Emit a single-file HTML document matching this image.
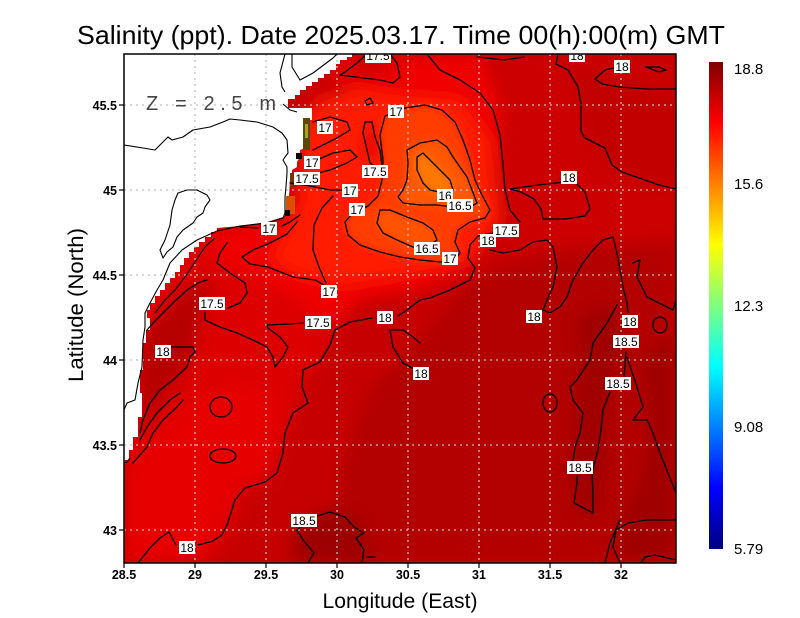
<!DOCTYPE html>
<html><head><meta charset="utf-8"><style>
html,body{margin:0;padding:0;background:#fff;}
svg{display:block;}
text{font-family:"Liberation Sans",sans-serif;}
</style></head><body>
<svg width="800" height="618" viewBox="0 0 800 618" xmlns="http://www.w3.org/2000/svg">
<defs>
<clipPath id="pc"><rect x="124" y="54" width="552" height="509"/></clipPath>
<filter id="bl" x="-30%" y="-30%" width="160%" height="160%"><feGaussianBlur stdDeviation="8"/></filter>
<filter id="bs" x="-30%" y="-30%" width="160%" height="160%"><feGaussianBlur stdDeviation="4"/></filter>
<linearGradient id="jet" x1="0" y1="1" x2="0" y2="0">
<stop offset="0" stop-color="#00007f"/>
<stop offset="0.125" stop-color="#0000ff"/>
<stop offset="0.375" stop-color="#00ffff"/>
<stop offset="0.625" stop-color="#ffff00"/>
<stop offset="0.875" stop-color="#ff0000"/>
<stop offset="1" stop-color="#800000"/>
</linearGradient>
</defs>

<!-- Title -->
<text x="77" y="44" font-size="26" textLength="648" lengthAdjust="spacingAndGlyphs" fill="#000">Salinity (ppt). Date 2025.03.17. Time 00(h):00(m) GMT</text>

<g clip-path="url(#pc)">
<rect x="124" y="54" width="552" height="509" fill="#c60000"/>
<g filter="url(#bl)">
<polygon points="470,280 560,250 676,240 676,563 330,563 340,470 370,390 420,340" fill="#b30000"/>
<polygon points="575,320 610,300 625,340 610,400 605,460 600,515 575,515 570,470 575,400 580,360" fill="#a00000"/>
<polygon points="640,360 676,330 676,563 620,563 620,520 640,480 650,430" fill="#a00000"/>
<polygon points="295,530 330,508 362,520 372,563 292,563" fill="#9c0000"/>
<polygon points="480,54 676,54 676,240 600,245 560,250 500,250 490,200 480,120" fill="#cc0000"/>
<polygon points="560,60 676,90 676,190 620,175 585,140 580,90" fill="#c20000"/>
<polygon points="124,230 300,230 340,320 320,360 300,390 285,440 270,480 245,490 225,540 205,563 124,563" fill="#dc0000"/>
<polygon points="124,470 190,400 240,380 280,400 270,470 240,490 215,545 190,563 124,563" fill="#e60000"/>
<polygon points="145,330 175,300 205,278 215,286 200,320 195,350 185,370 165,395 150,420 140,440 138,380" fill="#b60000"/>
<polygon points="215,230 290,215 310,110 340,60 480,54 500,110 490,230 470,270 420,290 360,300 330,330 300,300 250,275 215,260" fill="#f00000"/>
<polygon points="300,120 340,85 390,95 460,100 490,140 500,220 470,260 400,275 340,285 300,275 270,260 285,235 300,200" fill="#ff1c00"/>
<ellipse cx="370" cy="70" rx="25" ry="10" fill="#d40000"/>
<ellipse cx="330" cy="88" rx="20" ry="10" fill="#cc0000"/>
<ellipse cx="372" cy="145" rx="8" ry="20" fill="#e40000"/>
</g>
<g filter="url(#bs)">
<polygon points="385,116 405,108 425,105 442,110 455,122 463,140 470,160 475,180 482,195 490,210 485,218 470,222 458,230 455,242 460,253 455,260 440,262 420,260 400,257 380,252 360,245 348,235 345,222 352,214 368,206 378,196 382,180 383,160 380,135" fill="#ff3c00"/>
<polygon points="407,150 420,143 437,140 447,147 453,157 460,167 467,177 472,190 477,203 470,207 453,207 437,205 420,205 403,203 398,197 403,190 407,180 408,163" fill="#ff5800"/>
<polygon points="380,210 390,210 407,217 423,223 433,230 437,240 427,247 413,247 397,240 383,233 377,223" fill="#ff5200"/>
<polygon points="417,157 423,153 430,160 440,170 450,180 453,190 443,193 430,190 423,183 417,170" fill="#ff7800"/>
</g>

<!-- land -->
<polygon points="124,54 352,54 352,57 347,57 347,60 340,60 340,64 336,64 336,70 330,70 330,74 324,74 324,78 318,78 318,82 312,82 312,86 306,86 306,90 300,90 300,95 295,95 295,99 288,99 288,108 312,108 312,120 308,120 308,147 300,150 300,157 297,162 297,167 292,170 292,173 290,176 290,180 288,213 283,217 267,222 240,226 217,228 217,232 211,232 211,237 205,237 205,242 199,242 199,247 194,247 194,252 189,252 189,258 184,258 184,265 180,265 180,272 175,272 175,278 170,278 170,283 165,283 165,290 160,290 160,296 155,296 155,303 150,303 150,310 147,310 147,318 150,318 150,330 146,330 146,343 143,343 143,370 140,370 140,393 142,393 142,417 138,417 138,437 133,437 133,450 129,450 129,460 125,460 124,465" fill="#fff"/>

<!-- coastal spots -->
<rect x="303" y="118" width="7" height="32" fill="#5a4a08"/>
<rect x="305" y="124" width="3" height="14" fill="#b0a020"/>
<rect x="296" y="153" width="6" height="6" fill="#000"/>
<rect x="290" y="173" width="6" height="14" fill="#7a3000"/>
<rect x="286" y="196" width="9" height="18" fill="#d85000"/>
<rect x="285" y="210" width="5" height="6" fill="#000"/>

<!-- grid -->
<g stroke="#c0c0c0" stroke-width="1.3" stroke-dasharray="2 4" fill="none">
<line x1="195" y1="54" x2="195" y2="563"/><line x1="266" y1="54" x2="266" y2="563"/>
<line x1="337" y1="54" x2="337" y2="563"/><line x1="408" y1="54" x2="408" y2="563"/>
<line x1="479" y1="54" x2="479" y2="563"/><line x1="550" y1="54" x2="550" y2="563"/>
<line x1="621" y1="54" x2="621" y2="563"/>
<line x1="124" y1="105" x2="676" y2="105"/><line x1="124" y1="190" x2="676" y2="190"/>
<line x1="124" y1="275" x2="676" y2="275"/><line x1="124" y1="360" x2="676" y2="360"/>
<line x1="124" y1="445" x2="676" y2="445"/><line x1="124" y1="530" x2="676" y2="530"/>
</g>

<!-- coastline outlines -->
<g stroke="#000" stroke-width="1.1" fill="none" stroke-linejoin="round">
<polyline points="124,145 143,148 155,150 162,143 168,137 172,140 183,137 193,130 210,127 223,122 230,119 240,120 257,122 273,127 282,133 287,140 288,153 285,157 283,160 287,167 287,173 286,187 285,197 285,213 283,218 267,223 240,226 217,231 197,240 182,250 170,263 163,280 157,290 150,303 145,313 145,327 143,340 142,367 138,383 135,400 127,403 124,410"/>
<polyline points="215,238 205,247 195,262 185,277 175,290 165,300 155,313"/>
<polygon points="178,193 187,190 197,190 207,195 210,200 205,207 203,213 197,217 193,223 183,230 177,237 173,247 167,252 163,258 160,250 165,240 170,225 172,210 175,200"/>
<polyline points="285,54 280,73 282,87 285,92"/>
<polyline points="292,54 292,67 300,80 313,73 333,58 337,54"/>
<polyline points="283,104 290,110 297,112"/>
<polyline points="124,463 127,462 130,458"/>
</g>

<!-- contours -->
<g stroke="#000" stroke-width="1.3" fill="none" stroke-linejoin="round" stroke-linecap="round">
<path d="M417,157 L423,153 430,160 440,170 450,180 453,190 443,193 430,190 423,183 417,170 Z"/>
<path d="M407,150 L420,143 437,140 447,147 453,157 460,167 467,177 472,190 477,203 470,207 453,207 437,205 420,205 403,203 398,197 403,190 407,180 408,163 Z"/>
<path d="M380,210 L390,210 407,217 423,223 433,230 437,240 427,247 413,247 397,240 383,233 377,223 Z"/>
<path d="M385,116 L405,108 425,105 442,110 455,122 463,140 470,160 475,180 482,195 490,210 485,218 470,222 458,230 455,242 460,253 455,260 440,262 420,260 400,257 380,252 360,245 348,235 345,222 352,214 368,206 378,196 382,180 383,160 380,135 Z"/>
<path d="M427,54 L440,70 460,80 480,93 493,110 500,135 503,165 505,190 510,210 520,222"/>
<path d="M493,233 L478,236 470,245 468,258 475,268 470,280 450,290 430,298 420,300 407,310 398,316"/>
<path d="M490,250 L503,253 520,250 533,242 547,240 553,247 557,267 553,287 547,300 543,310 550,313 560,307 567,297 573,280 583,263 593,250 603,240 613,237 617,253 620,270 623,287 627,303 628,312"/>
<path d="M558,54 L556,64 568,70 578,87 581,104 581,131 585,138 605,148 612,165 622,172 639,178 659,185 676,189"/>
<path d="M510,189 L538,185 565,182 575,182 585,192 590,209 585,216 565,219 543,219 541,209 534,199 521,192 Z"/>
<path d="M630,64 L605,70 595,79 602,84 619,87 646,89 676,89"/>
<path d="M646,67 L659,67 666,70 659,72 Z"/>
<path d="M477,57 L504,60 524,57"/>
<path d="M367,54 L357,63 345,72 340,75 363,78 380,80 393,83 400,77 397,63 390,54"/>
<path d="M365,122 L372,122 375,137 380,150 382,167 377,168 370,163 367,150 363,133 Z"/>
<path d="M313,122 L330,117 347,122 350,130 337,138 323,145 313,150"/>
<path d="M317,160 L333,153 350,150 357,157 347,163 330,170 318,173"/>
<path d="M365,101 L370,98 373,103 367,105 Z"/>
<path d="M290,183 L310,186 330,190 342,190"/>
<path d="M333,196 L322,208 314,225 313,250 319,267 326,283"/>
<path d="M240,227 L258,228 M282,226 L290,222 300,215"/>
<path d="M242,257 L253,250 270,243 287,234 297,222"/>
<path d="M242,257 L250,264 268,267 293,277 315,280 324,285"/>
<path d="M227,243 L220,253 217,263 230,273 245,283 247,293 240,303 228,308"/>
<path d="M205,312 L205,320 220,327 237,333 253,340 267,347 273,357 275,367 283,357 288,347 280,337 268,328 267,325 290,324 303,323"/>
<path d="M372,318 L350,322 335,330 330,345 320,362 303,370 302,387 308,403 293,413 285,433 283,453 277,473 265,482 245,488 235,500 227,525 222,535 213,541 198,545"/>
<path d="M176,545 L169,532 160,538 150,548 138,563"/>
<path d="M420,343 L413,337 403,330 390,330 393,347 403,363 414,369"/>
<path d="M170,347 L193,347 195,352 190,357 187,367 173,380 160,390 150,403 143,420 140,433"/>
<path d="M207,280 L200,282 187,290 173,303 163,313 153,323 147,330"/>
<path d="M180,393 L170,400 157,413 147,427 140,440"/>
<path d="M183,400 L177,407 163,420 153,433 147,447 133,463"/>
<ellipse cx="221" cy="407" rx="11" ry="10"/>
<ellipse cx="223" cy="456" rx="13" ry="7"/>
<path d="M617,305 L607,323 593,343 590,360 577,380 570,387 573,400 583,413 580,433 575,447 573,462 M577,476 L577,483 574,503 593,513 593,493 592,473 598,450 601,430 603,410 610,392 M624,377 L626,352"/>
<path d="M620,520 L610,543 605,563"/>
<path d="M627,357 L637,387 643,407 633,420 647,420 653,433 660,453 668,473 676,493"/>
<ellipse cx="550" cy="403" rx="7" ry="9"/>
<ellipse cx="660" cy="325" rx="7" ry="8"/>
<path d="M633,263 L640,260 637,277 647,297 667,307 673,310 676,300"/>
<path d="M620,563 L613,547 616,530 628,523 647,520 676,520"/>
<path d="M641,563 L645,557 655,555 676,560"/>
<path d="M297,530 L303,540 314,553 308,563"/>
<path d="M297,530 L314,517 330,512 345,517 354,527 364,533 356,538 364,550 362,563"/>
<path d="M367,557 L375,557"/>
</g>

<!-- contour labels -->
<g font-size="12" fill="#000" text-anchor="middle">
<rect x="365" y="50" width="26" height="13" fill="#fff"/><text x="378" y="60">17.5</text>
<rect x="569" y="50" width="16" height="12" fill="#fff"/><text x="577" y="60">18</text>
<rect x="614" y="60" width="16" height="13" fill="#fff"/><text x="622" y="71">18</text>
<rect x="388" y="105" width="16" height="13" fill="#fff"/><text x="396" y="116">17</text>
<rect x="317" y="121" width="16" height="13" fill="#fff"/><text x="325" y="132">17</text>
<rect x="304" y="156" width="16" height="13" fill="#fff"/><text x="312" y="167">17</text>
<rect x="362" y="165" width="26" height="13" fill="#fff"/><text x="375" y="176">17.5</text>
<rect x="294" y="172" width="26" height="13" fill="#fff"/><text x="307" y="183">17.5</text>
<rect x="342" y="184" width="16" height="13" fill="#fff"/><text x="350" y="195">17</text>
<rect x="561" y="171" width="16" height="13" fill="#fff"/><text x="569" y="182">18</text>
<rect x="437" y="189" width="16" height="13" fill="#fff"/><text x="445" y="200">16</text>
<rect x="447" y="199" width="26" height="13" fill="#fff"/><text x="460" y="210">16.5</text>
<rect x="349" y="203" width="16" height="13" fill="#fff"/><text x="357" y="214">17</text>
<rect x="261" y="222" width="16" height="13" fill="#fff"/><text x="269" y="233">17</text>
<rect x="493" y="224" width="26" height="13" fill="#fff"/><text x="506" y="235">17.5</text>
<rect x="480" y="234" width="16" height="13" fill="#fff"/><text x="488" y="245">18</text>
<rect x="414" y="242" width="26" height="13" fill="#fff"/><text x="427" y="253">16.5</text>
<rect x="442" y="252" width="16" height="13" fill="#fff"/><text x="450" y="263">17</text>
<rect x="321" y="285" width="16" height="13" fill="#fff"/><text x="329" y="296">17</text>
<rect x="199" y="297" width="26" height="13" fill="#fff"/><text x="212" y="308">17.5</text>
<rect x="305" y="316" width="26" height="13" fill="#fff"/><text x="318" y="327">17.5</text>
<rect x="377" y="311" width="16" height="13" fill="#fff"/><text x="385" y="322">18</text>
<rect x="526" y="310" width="16" height="13" fill="#fff"/><text x="534" y="321">18</text>
<rect x="622" y="315" width="16" height="13" fill="#fff"/><text x="630" y="326">18</text>
<rect x="613" y="335" width="26" height="13" fill="#fff"/><text x="626" y="346">18.5</text>
<rect x="155" y="345" width="16" height="13" fill="#fff"/><text x="163" y="356">18</text>
<rect x="413" y="367" width="16" height="13" fill="#fff"/><text x="421" y="378">18</text>
<rect x="605" y="377" width="26" height="13" fill="#fff"/><text x="618" y="388">18.5</text>
<rect x="567" y="461" width="26" height="13" fill="#fff"/><text x="580" y="472">18.5</text>
<rect x="291" y="514" width="26" height="13" fill="#fff"/><text x="304" y="525">18.5</text>
<rect x="179" y="541" width="16" height="13" fill="#fff"/><text x="187" y="552">18</text>
</g>

<text x="146" y="110" font-size="20" fill="#444" textLength="130" lengthAdjust="spacing">Z = 2.5 m</text>
</g>

<!-- frame -->
<rect x="124" y="54" width="552" height="509" fill="none" stroke="#000" stroke-width="1.5"/>

<!-- ticks -->
<g stroke="#000" stroke-width="1.2">
<line x1="124" y1="563" x2="124" y2="568"/><line x1="195" y1="563" x2="195" y2="568"/>
<line x1="266" y1="563" x2="266" y2="568"/><line x1="337" y1="563" x2="337" y2="568"/>
<line x1="408" y1="563" x2="408" y2="568"/><line x1="479" y1="563" x2="479" y2="568"/>
<line x1="550" y1="563" x2="550" y2="568"/><line x1="621" y1="563" x2="621" y2="568"/>
<line x1="119" y1="105" x2="124" y2="105"/><line x1="119" y1="190" x2="124" y2="190"/>
<line x1="119" y1="275" x2="124" y2="275"/><line x1="119" y1="360" x2="124" y2="360"/>
<line x1="119" y1="445" x2="124" y2="445"/><line x1="119" y1="530" x2="124" y2="530"/>
</g>
<g font-size="12.5" font-weight="bold" text-anchor="middle" fill="#000">
<text x="124" y="579">28.5</text><text x="195" y="579">29</text><text x="266" y="579">29.5</text>
<text x="337" y="579">30</text><text x="408" y="579">30.5</text><text x="479" y="579">31</text>
<text x="550" y="579">31.5</text><text x="621" y="579">32</text>
</g>
<g font-size="12.5" font-weight="bold" text-anchor="end" fill="#000">
<text x="117" y="110">45.5</text><text x="117" y="195">45</text><text x="117" y="280">44.5</text>
<text x="117" y="365">44</text><text x="117" y="450">43.5</text><text x="117" y="535">43</text>
</g>

<text x="400" y="608" font-size="21" text-anchor="middle" textLength="155" lengthAdjust="spacingAndGlyphs">Longitude (East)</text>
<text transform="translate(83,305) rotate(-90)" font-size="21" text-anchor="middle" textLength="154" lengthAdjust="spacingAndGlyphs">Latitude (North)</text>

<!-- colorbar -->
<rect x="709" y="62" width="14" height="487" fill="url(#jet)"/>
<g font-size="15" fill="#000">
<text x="734" y="74">18.8</text>
<text x="734" y="189">15.6</text>
<text x="734" y="311">12.3</text>
<text x="734" y="432">9.08</text>
<text x="734" y="554">5.79</text>
</g>
</svg>
</body></html>
